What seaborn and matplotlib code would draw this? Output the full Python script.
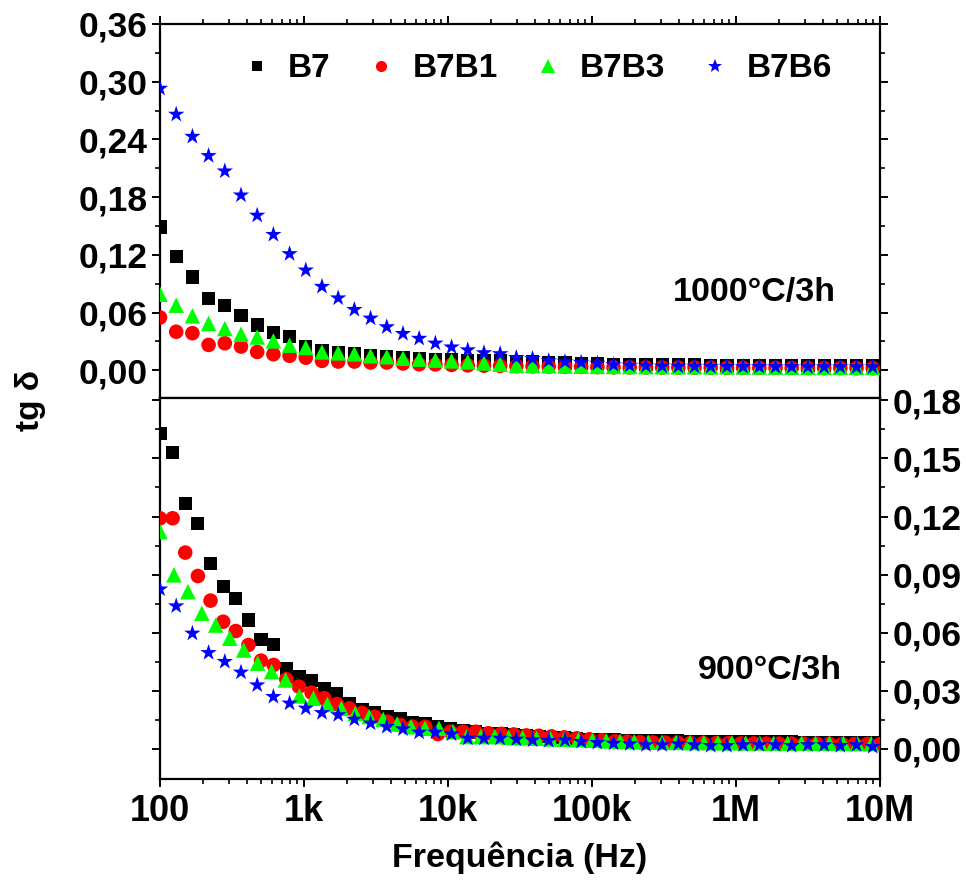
import numpy as np
import pandas as pd
import matplotlib
matplotlib.use("Agg")
import matplotlib.pyplot as plt
from matplotlib.ticker import FixedLocator, FuncFormatter, LogLocator, NullFormatter
import seaborn as sns

sns.set_style("ticks")
plt.rcParams["font.family"] = ["Liberation Sans", "DejaVu Sans"]
plt.rcParams["font.weight"] = "bold"
for k in ["text.color", "axes.labelcolor", "xtick.color", "ytick.color", "axes.edgecolor"]:
    plt.rcParams[k] = "black"

# ---------------- data ----------------
samples = ["B7", "B7B1", "B7B3", "B7B6"]
colors = {"B7": "#000000", "B7B1": "#FF0000", "B7B3": "#00FF00", "B7B6": "#0000FF"}
markers = {"B7": "s", "B7B1": "o", "B7B3": "^", "B7B6": "*"}
msize = {"B7": 90, "B7B1": 110, "B7B3": 125, "B7B6": 155}

# frequency sweeps (Hz)
freq_45 = np.geomspace(100, 8.9e6, 45)
freq_58 = np.geomspace(100, 1.0e7, 58)
freq_52 = np.geomspace(100, 8.7e6, 52)

# 1000 C / 3h (top panel)
top_B7 = [0.149, 0.118, 0.097, 0.0746, 0.0676, 0.057, 0.047, 0.039, 0.035, 0.025,
          0.020, 0.018, 0.017, 0.015, 0.014, 0.013, 0.012, 0.0115, 0.011, 0.0105,
          0.010, 0.0095, 0.009, 0.0085, 0.008, 0.0075, 0.007, 0.0066, 0.0062, 0.006,
          0.0058, 0.0056, 0.0055, 0.0054, 0.0053, 0.0052, 0.0051, 0.005, 0.005, 0.0049,
          0.0048, 0.0048, 0.0047, 0.0047, 0.0046]
top_B7B1 = [0.0548, 0.040, 0.0385, 0.0263, 0.028, 0.0246, 0.019, 0.0166, 0.015, 0.013,
            0.0097, 0.009, 0.009, 0.008, 0.008, 0.007, 0.0062, 0.006, 0.0055, 0.005,
            0.0047, 0.0045, 0.0042, 0.004, 0.0038, 0.0036, 0.0034, 0.0032, 0.003, 0.003,
            0.0029, 0.0028, 0.0027, 0.0026, 0.0026, 0.0025, 0.0025, 0.0024, 0.0024, 0.0023,
            0.0023, 0.0022, 0.0022, 0.0021, 0.0021]
top_B7B3 = [0.079, 0.0676, 0.0565, 0.0486, 0.0433, 0.0374, 0.0346, 0.0305, 0.026, 0.0236,
            0.019, 0.018, 0.017, 0.015, 0.014, 0.0125, 0.0115, 0.0105, 0.0097, 0.0087,
            0.0075, 0.0062, 0.005, 0.0048, 0.0046, 0.0044, 0.0042, 0.004, 0.0039, 0.0038,
            0.0037, 0.0036, 0.0035, 0.0035, 0.0034, 0.0034, 0.0033, 0.0033, 0.0032, 0.0032,
            0.0032, 0.0031, 0.0031, 0.0031, 0.003]
top_B7B6 = [0.293, 0.266, 0.243, 0.223, 0.207, 0.182, 0.161, 0.141, 0.121, 0.104,
            0.087, 0.075, 0.063, 0.054, 0.045, 0.038, 0.033, 0.028, 0.024, 0.021,
            0.018, 0.017, 0.013, 0.012, 0.0097, 0.0087, 0.008, 0.007, 0.0055, 0.005,
            0.0045, 0.0042, 0.004, 0.0039, 0.0038, 0.0037, 0.0036, 0.0036, 0.0035, 0.0035,
            0.0034, 0.0034, 0.0034, 0.0033, 0.0033]

# 900 C / 3h (bottom panel)
bot_B7 = [0.1627, 0.1530, 0.1269, 0.1166, 0.0959, 0.0837, 0.0775, 0.0666, 0.0566, 0.0541,
          0.0417, 0.0374, 0.0354, 0.0313, 0.0288, 0.0236, 0.0205, 0.0190, 0.0167, 0.0159,
          0.0136, 0.0129, 0.0115, 0.0105, 0.0095, 0.0088, 0.0082, 0.0077, 0.0072, 0.0068,
          0.0064, 0.0060, 0.0057, 0.0054, 0.0051, 0.0049, 0.0047, 0.0045, 0.0044, 0.0043,
          0.0042, 0.0041, 0.0040, 0.0040, 0.0039, 0.0038, 0.0038, 0.0037, 0.0037, 0.0036,
          0.0036, 0.0035, 0.0035, 0.0035, 0.0034, 0.0034, 0.0034, 0.0033]
bot_B7B1 = [0.1191, 0.1191, 0.1014, 0.0893, 0.0766, 0.0657, 0.0609, 0.0537, 0.0456, 0.0434,
            0.0360, 0.0322, 0.0291, 0.0262, 0.0232, 0.0210, 0.0187, 0.0167, 0.0141, 0.0124,
            0.0115, 0.0115, 0.0077, 0.0089, 0.0089, 0.0089, 0.0081, 0.0078, 0.0075, 0.0070,
            0.0068, 0.0065, 0.0060, 0.0055, 0.0050, 0.0045, 0.0040, 0.0038, 0.0035, 0.0034,
            0.0033, 0.0032, 0.0031, 0.0031, 0.0030, 0.0030, 0.0029, 0.0029, 0.0028, 0.0028,
            0.0028, 0.0027, 0.0027, 0.0027, 0.0026, 0.0026, 0.0026, 0.0025]
bot_B7B3 = [0.1122, 0.0899, 0.0812, 0.0701, 0.0640, 0.0572, 0.0511, 0.0443, 0.0399, 0.0356,
            0.0274, 0.0262, 0.0230, 0.0210, 0.0184, 0.0167, 0.0153, 0.0129, 0.0115, 0.0107,
            0.0107, 0.0089, 0.0064, 0.0064, 0.0064, 0.0060, 0.0058, 0.0055, 0.0052, 0.0050,
            0.0048, 0.0045, 0.0042, 0.0040, 0.0038, 0.0036, 0.0035, 0.0034, 0.0033, 0.0033,
            0.0032, 0.0032, 0.0031, 0.0031, 0.0030, 0.0030, 0.0030, 0.0029, 0.0029, 0.0029,
            0.0028, 0.0028]
bot_B7B6 = [0.0825, 0.0738, 0.0597, 0.0497, 0.0451, 0.0396, 0.0330, 0.0270, 0.0236, 0.0210,
            0.0187, 0.0176, 0.0153, 0.0133, 0.0115, 0.0103, 0.0086, 0.0086, 0.0077, 0.0055,
            0.0055, 0.0055, 0.0050, 0.0046, 0.0043, 0.0046, 0.0038, 0.0033, 0.0029, 0.0026,
            0.0021, 0.0021, 0.0026, 0.0021, 0.0017, 0.0017, 0.0021, 0.0021, 0.0021, 0.0017,
            0.0021, 0.0021, 0.0017, 0.0021, 0.0012]

top_series = {"B7": (freq_45, top_B7), "B7B1": (freq_45, top_B7B1),
              "B7B3": (freq_45, top_B7B3), "B7B6": (freq_45, top_B7B6)}
bot_series = {"B7": (freq_58, bot_B7), "B7B1": (freq_58, bot_B7B1),
              "B7B3": (freq_52, bot_B7B3), "B7B6": (freq_45, bot_B7B6)}

xtick_vals = [1e2, 1e3, 1e4, 1e5, 1e6, 1e7]
xtick_labels = ["100", "1k", "10k", "100k", "1M", "10M"]
top_yticks = [0.00, 0.06, 0.12, 0.18, 0.24, 0.30, 0.36]
bot_yticks = [0.00, 0.03, 0.06, 0.09, 0.12, 0.15, 0.18]
top_label = "1000°C/3h"
bot_label = "900°C/3h"

# ---------------- figure ----------------
W, H = 966, 888
fig = plt.figure(figsize=(W / 100, H / 100), dpi=100)
ax1 = fig.add_axes([160 / W, 1 - 398 / H, 720 / W, 374 / H])
ax2 = fig.add_axes([160 / W, 1 - 779 / H, 720 / W, 381 / H])

def draw(ax, series):
    for s in samples:
        x, y = series[s]
        df = pd.DataFrame({"f": x, "v": y})
        sns.scatterplot(data=df, x="f", y="v", ax=ax, marker=markers[s],
                        color=colors[s], s=msize[s], edgecolor="none",
                        linewidth=0, legend=False, zorder=3)

draw(ax1, top_series)
draw(ax2, bot_series)

comma = FuncFormatter(lambda v, p: f"{v:.2f}".replace(".", ","))
xfmt = FuncFormatter(lambda v, p: dict(zip(xtick_vals, xtick_labels)).get(v, ""))
for ax in (ax1, ax2):
    ax.set_xscale("log")
    ax.set_xlim(100, 1e7)
    ax.set_xlabel("")
    ax.set_ylabel("")
    for sp in ax.spines.values():
        sp.set_linewidth(1.6)
        sp.set_visible(True)
        sp.set_color("black")
    ax.xaxis.set_major_locator(FixedLocator(xtick_vals))
    ax.xaxis.set_minor_locator(LogLocator(base=10, subs=np.arange(2, 10)))
    ax.xaxis.set_minor_formatter(NullFormatter())

ax1.set_ylim(-0.0289, 0.36)
ax2.set_ylim(-0.0155, 0.1812)

# top panel
ax1.yaxis.set_major_locator(FixedLocator(top_yticks))
ax1.yaxis.set_minor_locator(FixedLocator([0.03, 0.09, 0.15, 0.21, 0.27, 0.33]))
ax1.yaxis.set_major_formatter(comma)
ax1.tick_params(axis="y", which="both", left=True, right=True, labelleft=True,
                labelright=False, direction="out", labelsize=25.5, pad=3)
ax1.tick_params(axis="x", which="both", top=True, bottom=True, labelbottom=False,
                labeltop=False, direction="out")
ax1.tick_params(which="major", length=6, width=1.4)
ax1.tick_params(which="minor", length=3.5, width=1.2)

# bottom panel
ax2.yaxis.set_major_locator(FixedLocator(bot_yticks))
ax2.yaxis.set_minor_locator(FixedLocator([0.015, 0.045, 0.075, 0.105, 0.135, 0.165]))
ax2.yaxis.set_major_formatter(comma)
ax2.tick_params(axis="y", which="both", left=True, right=True, labelleft=False,
                labelright=True, direction="out", labelsize=25.5, pad=3)
ax2.xaxis.set_major_formatter(xfmt)
ax2.tick_params(axis="x", which="both", top=False, bottom=True, labelbottom=True,
                direction="out", labelsize=26, pad=5)
ax2.tick_params(which="major", length=6, width=1.4)
ax2.tick_params(which="minor", length=3.5, width=1.2)

for lab in ax1.get_yticklabels() + ax2.get_yticklabels() + ax2.get_xticklabels():
    lab.set_fontweight("bold")

# legend
handles = [plt.Line2D([], [], linestyle="none", marker=markers[s], color=colors[s],
                      markersize={"B7": 7, "B7B1": 8, "B7B3": 9.5, "B7B6": 10}[s],
                      markeredgewidth=0) for s in samples]
leg = ax1.legend(handles, samples, ncol=4, frameon=False, loc="center",
                 bbox_to_anchor=(0.522, 0.88), handlelength=1.0,
                 handletextpad=0.45, columnspacing=1.0,
                 prop={"weight": "bold", "size": 24})

ax1.text(0.939, 0.281, top_label, transform=ax1.transAxes, ha="right", va="center",
         fontsize=24.5, fontweight="bold")
ax2.text(0.947, 0.286, bot_label, transform=ax2.transAxes, ha="right", va="center",
         fontsize=24.5, fontweight="bold")

fig.text(30 / W, 1 - 400 / H, "tg δ", rotation=90, ha="center", va="center",
         fontsize=24, fontweight="bold")
fig.text(520 / W, 1 - 858 / H, "Frequência (Hz)", ha="center", va="center",
         fontsize=24.5, fontweight="bold")

fig.savefig("out.png", dpi=100)
